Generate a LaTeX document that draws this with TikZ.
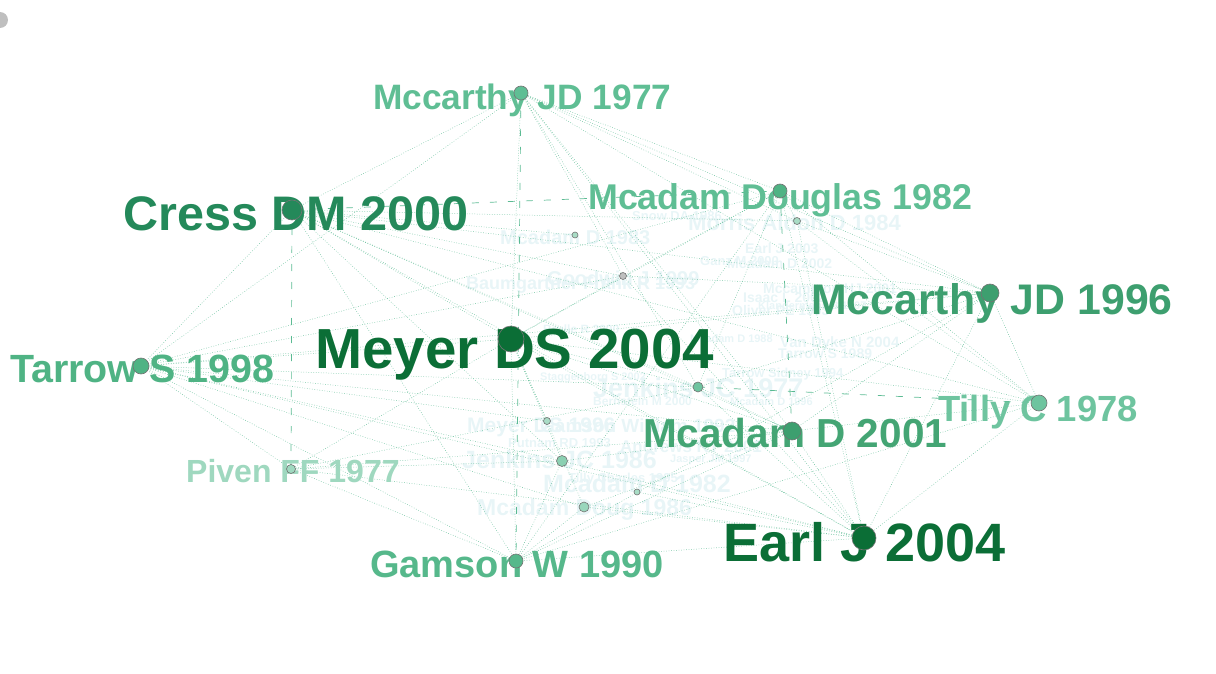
\documentclass[tikz,border=0pt]{standalone}
\usepackage{fontspec}
\setmainfont{Liberation Sans}
\usepackage{xcolor}
\usepackage{tikz}
\usetikzlibrary{arrows.meta, positioning, calc}

\definecolor{gdark}{HTML}{0B6E36}
\definecolor{gcress}{HTML}{24895A}
\definecolor{gmcc}{HTML}{3D9F6F}
\definecolor{gmca}{HTML}{44A574}
\definecolor{gtarrow}{HTML}{4FB384}
\definecolor{ggamson}{HTML}{56B88B}
\definecolor{glight}{HTML}{5FBE94}
\definecolor{gtilly}{HTML}{6EC49F}
\definecolor{gpiven}{HTML}{9FD8BF}
\definecolor{gfaint}{HTML}{E8F5F7}
\definecolor{glink}{HTML}{3FAF80}

\newcommand{\labfont}[1]{\fontsize{#1}{#1}\selectfont\bfseries}

\tikzset{
	label text/.style={anchor=base west, inner sep=0pt},
	faint text/.style={anchor=base west, inner sep=0pt, text=gfaint},
	dot/.style={circle, inner sep=0pt, draw=black!55, line width=0.6pt},
	link/.style={draw=glink, line width=0.5pt, dash pattern=on 0.7pt off 1.8pt, opacity=0.75},
	tie/.style={draw=glink, line width=0.7pt, dash pattern=on 7pt off 11pt, opacity=0.85}
}

\begin{document}
\begin{tikzpicture}[x=1pt, y=-1pt]
		\useasboundingbox (0,0) rectangle (1216,674);
		
		% Faint labels
		\node[faint text, font=\labfont{20}] (mcadam83-l) at (500,244) {Mcadam D 1983};
		\node[faint text, font=\labfont{13}] (snow86-l) at (632,220) {Snow DA 1986};
		\node[faint text, font=\labfont{22}] (morris84-l) at (688,230) {Morris Aldon D 1984};
		\node[faint text, font=\labfont{14}] (earl03-l) at (745,253) {Earl J 2003};
		\node[faint text, font=\labfont{14}] (mcadam02-l) at (727,268) {Mcadam D 2002};
		\node[faint text, font=\labfont{13}] (ganz00-l) at (700,265) {Ganz M 2000};
		\node[faint text, font=\labfont{20}] (goodwin99-l) at (547,285) {Goodwin J 1999};
		\node[faint text, font=\labfont{18}] (baum93-l) at (466,289) {Baumgartner Frank R 1993};
		\node[faint text, font=\labfont{14}] (mccammon01-l) at (763,293) {Mccammon HJ 2001};
		\node[faint text, font=\labfont{14}] (isaac02-l) at (743,302) {Isaac L 2002};
		\node[faint text, font=\labfont{11}] (klander-l) at (758,309) {Klandermans B 1997};
		\node[faint text, font=\labfont{14}] (oliver93-l) at (732,315) {Oliver PE 1993};
		\node[faint text, font=\labfont{12}] (brulle00-l) at (543,333) {Brulle R 2000};
		\node[faint text, font=\labfont{11}] (mcadam88-l) at (690,342) {Mcadam D 1988};
		\node[faint text, font=\labfont{15}] (vandyke04-l) at (780,347) {Van Dyke N 2004};
		\node[faint text, font=\labfont{14}] (tarrow89-l) at (778,358) {Tarrow S 1989};
		\node[faint text, font=\labfont{13}] (tarrow94-l) at (722,377) {Tarrow Sidney 1994};
		\node[faint text, font=\labfont{11}] (stagg02-l) at (540,380) {Staggenborg S 2002};
		\node[faint text, font=\labfont{27}] (jenkins77-l) at (593,397) {Jenkins JC 1977};
		\node[faint text, font=\labfont{12}] (bern00-l) at (593,405) {Bernstein M 2000};
		\node[faint text, font=\labfont{11}] (mcadam96-l) at (730,405) {Mcadam D 1996};
		\node[faint text, font=\labfont{21}] (meyer96-l) at (467,432) {Meyer DS 1996};
		\node[faint text, font=\labfont{19}] (gamson92-l) at (540,432) {Gamson William 1992};
		\node[faint text, font=\labfont{13}] (putnam93-l) at (508,447) {Putnam RD 1993};
		\node[faint text, font=\labfont{17}] (andrews01-l) at (620,452) {Andrews KT 2001};
		\node[faint text, font=\labfont{11}] (jasper97-l) at (670,462) {Jasper JM 1997};
		\node[faint text, font=\labfont{25}] (jenkins86-l) at (462,468) {Jenkins JC 1986};
		\node[faint text, font=\labfont{13}] (tilly95-l) at (568,482) {Tilly Charles 1995};
		\node[faint text, font=\labfont{25}] (mcadamd82-l) at (543,492) {Mcadam D 1982};
		\node[faint text, font=\labfont{23}] (mcadamdoug86-l) at (477,515) {Mcadam Doug 1986};
		
		% Nodes
		\coordinate (mccarthy77) at (521,93);
		\coordinate (cress00) at (292,210);
		\coordinate (mcadam82) at (780,191);
		\coordinate (mccarthy96) at (990,293);
		\coordinate (meyer04) at (511,339);
		\coordinate (tarrow98) at (141,366);
		\coordinate (tilly78) at (1039,403);
		\coordinate (mcadam01) at (792,431);
		\coordinate (piven77) at (291,469);
		\coordinate (gamson90) at (516,561);
		\coordinate (earl04) at (864,538);
		\coordinate (jenkins77) at (698,387);
		\coordinate (jenkins86) at (562,461);
		\coordinate (mcadamdoug86) at (584,507);
		\coordinate (goodwin99) at (623,276);
		\coordinate (morris84) at (797,221);
		\coordinate (meyer96) at (547,421);
		\coordinate (mcadam83) at (575,235);
		\coordinate (mcadamd82) at (637,492);
		
		% Links
		\foreach \a/\b in {tarrow98/cress00, tarrow98/meyer04, tarrow98/mccarthy77, tarrow98/gamson90,
			tarrow98/piven77, tarrow98/jenkins77, tarrow98/jenkins86, tarrow98/mcadam01, tarrow98/earl04,
			tarrow98/goodwin99, tarrow98/mcadam82, tarrow98/mccarthy96, tarrow98/mcadamdoug86, tarrow98/meyer96,
			cress00/mccarthy77, cress00/meyer04, cress00/mccarthy96, cress00/mcadam01, cress00/earl04,
			cress00/jenkins77, cress00/goodwin99, cress00/gamson90, cress00/jenkins86, cress00/tilly78,
			cress00/morris84, cress00/mcadam83,
			mccarthy77/meyer04, mccarthy77/mcadam82, mccarthy77/mccarthy96, mccarthy77/jenkins77,
			mccarthy77/mcadam01, mccarthy77/earl04, mccarthy77/goodwin99, mccarthy77/morris84, mccarthy77/tilly78,
			mcadam82/meyer04, mcadam82/mccarthy96, mcadam82/earl04, mcadam82/tilly78, mcadam82/jenkins77,
			mcadam82/goodwin99, mcadam82/gamson90, mcadam82/morris84,
			mccarthy96/meyer04, mccarthy96/tilly78, mccarthy96/mcadam01, mccarthy96/earl04, mccarthy96/jenkins77,
			mccarthy96/morris84, mccarthy96/goodwin99, mccarthy96/gamson90,
			meyer04/mcadam01, meyer04/earl04, meyer04/jenkins77, meyer04/gamson90, meyer04/piven77,
			meyer04/jenkins86, meyer04/tilly78, meyer04/goodwin99, meyer04/meyer96, meyer04/mcadamdoug86,
			tilly78/mcadam01, tilly78/earl04, tilly78/gamson90, tilly78/morris84,
			mcadam01/earl04, mcadam01/jenkins77, mcadam01/gamson90, mcadam01/jenkins86, mcadam01/mcadamdoug86,
			mcadam01/piven77,
			earl04/gamson90, earl04/jenkins77, earl04/jenkins86, earl04/mcadamdoug86, earl04/piven77,
			earl04/morris84, earl04/goodwin99, earl04/mcadamd82,
			gamson90/piven77, gamson90/jenkins86, gamson90/mcadamdoug86,
			piven77/jenkins86, piven77/jenkins77}
		\draw[link] (\a) -- (\b);
		
		% Stronger ties
		\draw[tie] (mccarthy77) -- (gamson90);
		\draw[tie] (cress00) -- (piven77);
		\draw[tie] (cress00) -- (mcadam82);
		\draw[tie] (mcadam82) -- (mcadam01);
		\draw[tie] (jenkins77) -- (tilly78);
		
		% Main labels
		\node[label text, text=glight, font=\labfont{35.3}] (mccarthy77-l) at (373,110) {Mccarthy JD 1977};
		\node[label text, text=gcress, font=\labfont{48.5}] (cress00-l) at (123,230) {Cress DM 2000};
		\node[label text, text=glight, font=\labfont{35.8}] (mcadam82-l) at (588,209) {Mcadam Douglas 1982};
		\node[label text, text=gmcc, font=\labfont{42.8}] (mccarthy96-l) at (811,314) {Mccarthy JD 1996};
		\node[label text, text=gdark, font=\labfont{56.5}] (meyer04-l) at (315,368) {Meyer DS 2004};
		\node[label text, text=gtarrow, font=\labfont{39.4}] (tarrow98-l) at (10,382) {Tarrow S 1998};
		\node[label text, text=gtilly, font=\labfont{36.4}] (tilly78-l) at (938,421) {Tilly C 1978};
		\node[label text, text=gmca, font=\labfont{40.5}] (mcadam01-l) at (643,447) {Mcadam D 2001};
		\node[label text, text=gpiven, font=\labfont{32}] (piven77-l) at (186,482) {Piven FF 1977};
		\node[label text, text=ggamson, font=\labfont{38}] (gamson90-l) at (370,577) {Gamson W 1990};
		\node[label text, text=gdark, font=\labfont{54}] (earl04-l) at (723,561) {Earl J 2004};
		
		% Dots
		\node[dot, fill=gdark, minimum size=26pt] (meyer04-d) at (meyer04) {};
		\node[dot, fill=gdark, minimum size=24pt] (earl04-d) at (earl04) {};
		\node[dot, fill=gcress, minimum size=20pt] (cress00-d) at (cress00) {};
		\node[dot, fill=gmcc, minimum size=18pt] (mccarthy96-d) at (mccarthy96) {};
		\node[dot, fill=gmcc, minimum size=18pt] (mcadam01-d) at (mcadam01) {};
		\node[dot, fill=gtarrow, minimum size=16pt] (tarrow98-d) at (tarrow98) {};
		\node[dot, fill=gtilly, minimum size=16pt] (tilly78-d) at (tilly78) {};
		\node[dot, fill=gtarrow, minimum size=14pt] (mcadam82-d) at (mcadam82) {};
		\node[dot, fill=glight, minimum size=14pt] (mccarthy77-d) at (mccarthy77) {};
		\node[dot, fill=ggamson, minimum size=14pt] (gamson90-d) at (gamson90) {};
		\node[dot, fill=gpiven, minimum size=9pt] (piven77-d) at (piven77) {};
		\node[dot, fill=gtilly, minimum size=10pt] (jenkins77-d) at (jenkins77) {};
		\node[dot, fill=gtilly!80, minimum size=11pt] (jenkins86-d) at (jenkins86) {};
		\node[dot, fill=gtilly!70, minimum size=10pt] (mcadamdoug86-d) at (mcadamdoug86) {};
		\node[dot, fill=black!25, minimum size=7pt] (goodwin99-d) at (goodwin99) {};
		\node[dot, fill=gtilly!60, minimum size=7pt] (morris84-d) at (morris84) {};
		\node[dot, fill=gtilly!60, minimum size=7pt] (meyer96-d) at (meyer96) {};
		\node[dot, fill=gtilly!60, minimum size=6pt] (mcadam83-d) at (mcadam83) {};
		\node[dot, fill=gtilly!60, minimum size=6pt] (mcadamd82-d) at (mcadamd82) {};
		
		% Corner mark
		\fill[black!25] (0,20) circle (8);
	\end{tikzpicture}
\end{document}
